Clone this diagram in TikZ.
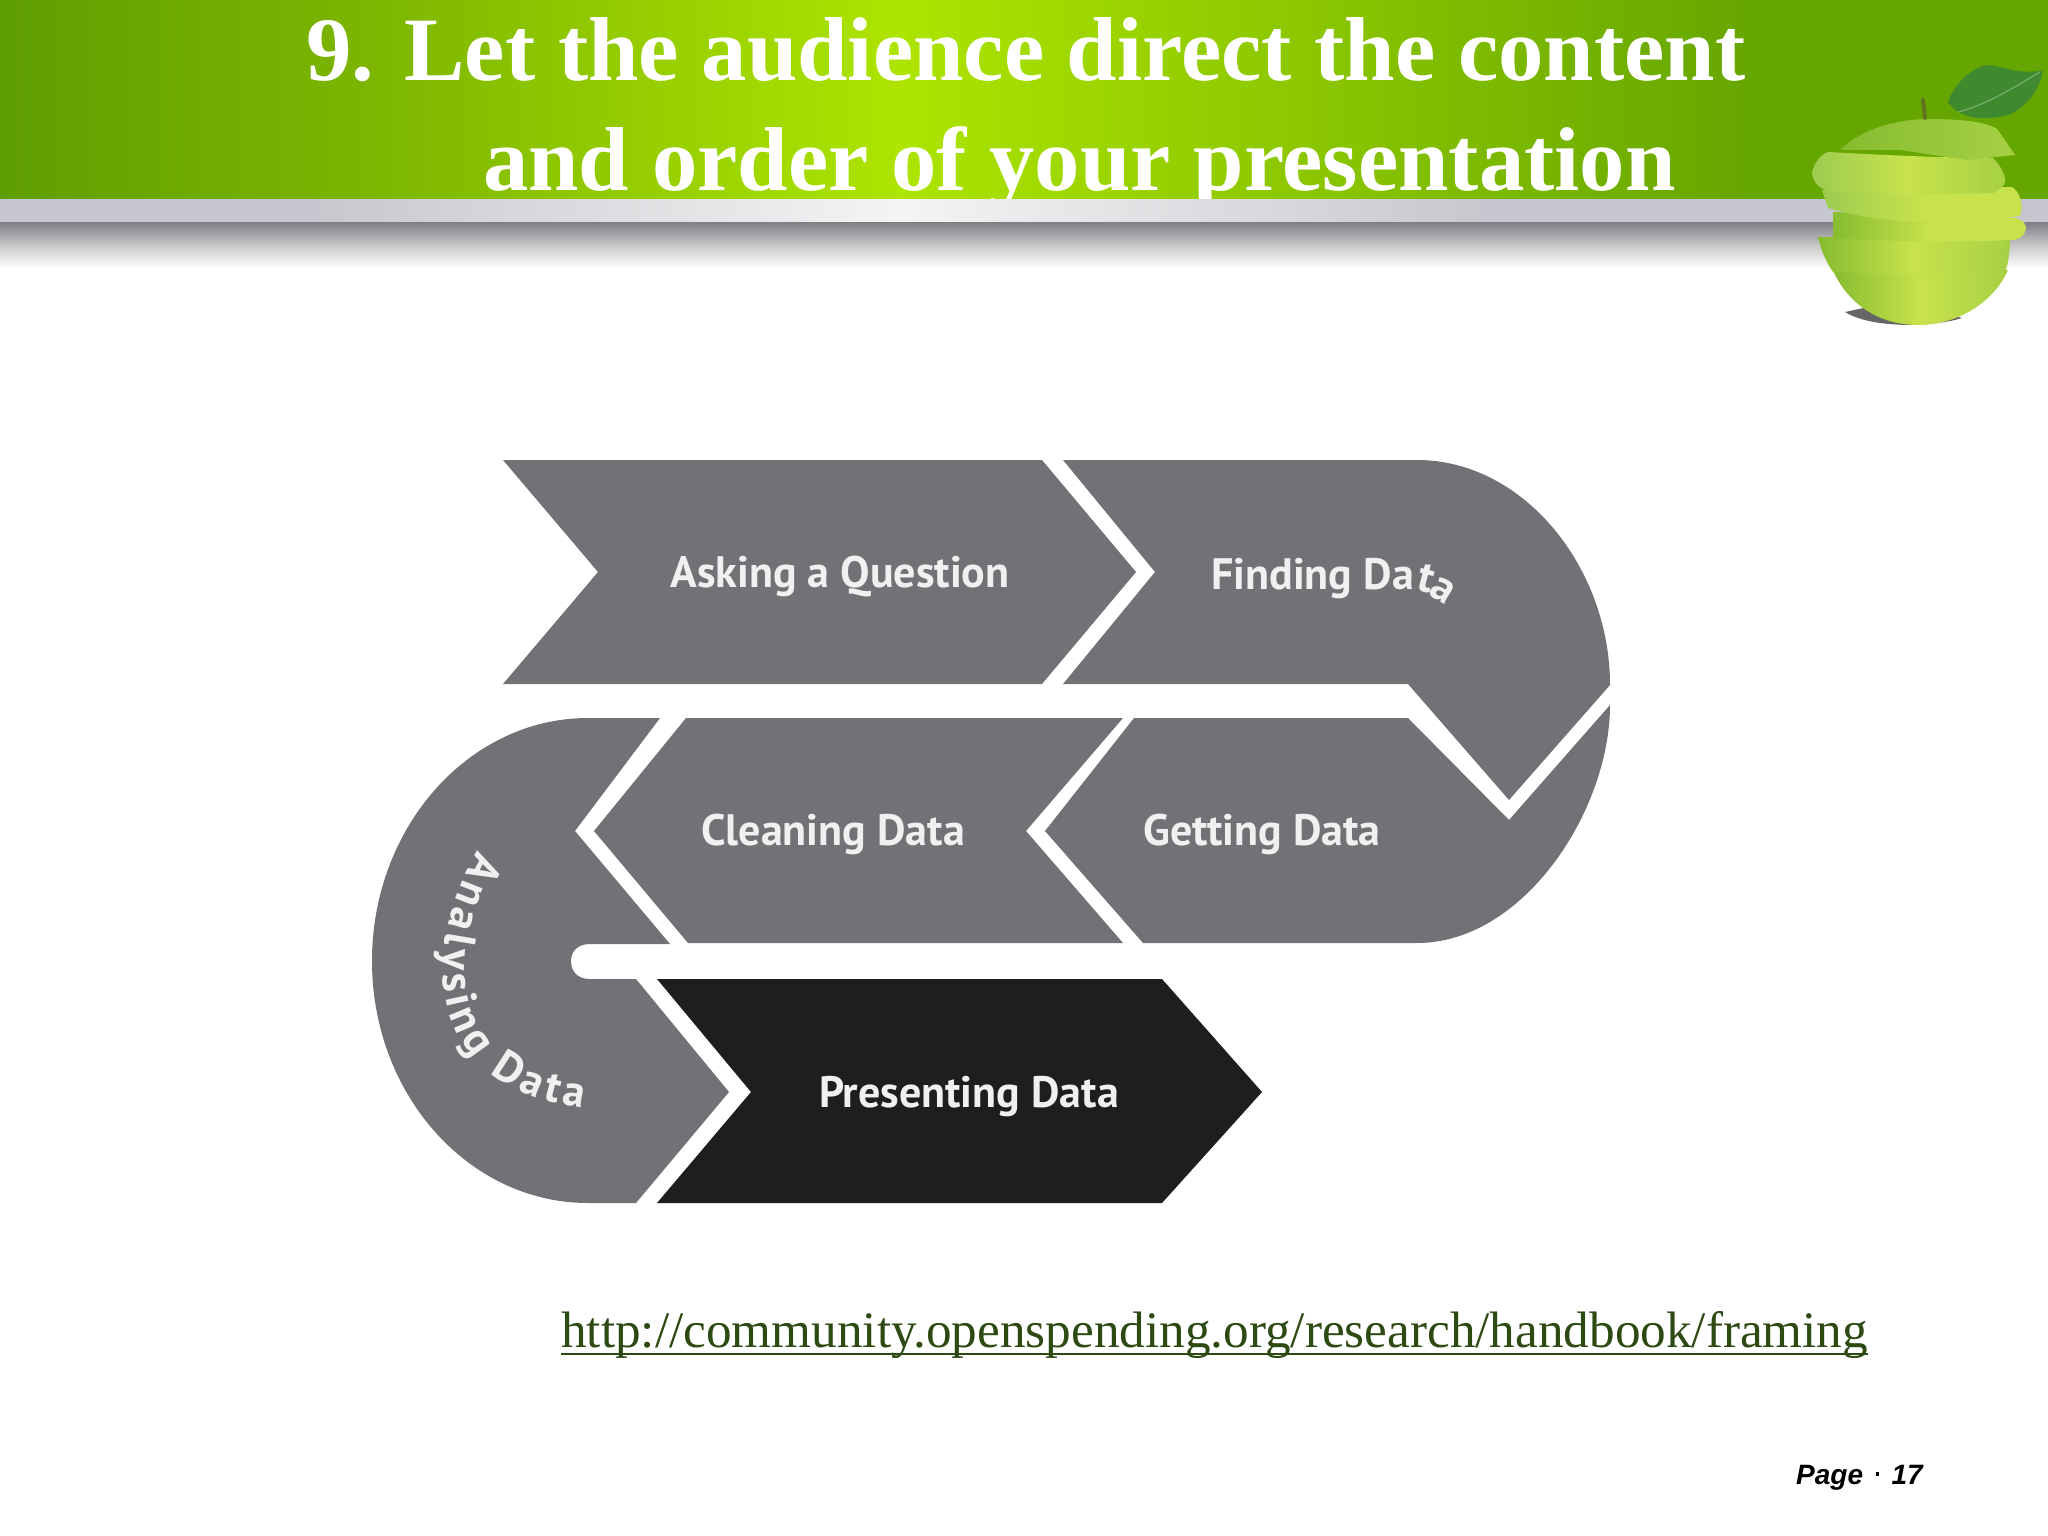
\documentclass[tikz,border=0pt]{standalone}
\usepackage{fontspec}
\setmainfont{Liberation Serif}
\newfontfamily\labelfont{PT Sans}[BoldFont={PT Sans Bold}]
\newfontfamily\pagefont{Liberation Sans}
\usetikzlibrary{arrows.meta,positioning,calc,decorations.text}
\definecolor{stepgray}{HTML}{737175}
\definecolor{stepblack}{HTML}{1F1D20}
\definecolor{urlgreen}{HTML}{2C4A12}
\definecolor{greenedge}{HTML}{5F9E02}
\definecolor{greenmid}{HTML}{7FB800}
\definecolor{greenlight}{HTML}{ADE400}
\definecolor{greenright}{HTML}{66A600}
\definecolor{bandgray}{HTML}{C6C6CE}
\definecolor{bandlight}{HTML}{F4F4F4}
\definecolor{shadowgray}{HTML}{7F7D85}
\definecolor{applelight}{HTML}{C8E24C}
\definecolor{applemid}{HTML}{A6D044}
\definecolor{appledark}{HTML}{86BC30}
\definecolor{appleleft}{HTML}{9CCC50}
\definecolor{leafgreen}{HTML}{3F8A2E}
\tikzset{
  steplabel/.style={text=white!94!black,font=\labelfont\bfseries\fontsize{44}{46}\selectfont,inner sep=0pt},
  titleline/.style={text=white,font=\bfseries\fontsize{90.7}{94}\selectfont,inner sep=0pt,anchor=base west},
}
\begin{document}
\begin{tikzpicture}[x=1pt,y=-1pt]
  \useasboundingbox (0,0) rectangle (2048,1536);
  \fill[white] (0,0) rectangle (2048,1536);
  \foreach \xa/\xb/\ca/\cb in {0/400/greenedge/greenmid,400/900/greenmid/greenlight,900/1750/greenlight/greenright,1750/2048/greenright/greenright}{
    \shade[left color=\ca,right color=\cb] (\xa,0) rectangle (\xb,200);
  }
  \node[titleline] (titleone) at (306,81) {9. Let the audience direct the content};
  \node[titleline] (titletwo) at (483,190) {and order of your presentation};
  \foreach \xa/\xb/\ca/\cb in {0/300/bandgray/bandgray,300/900/bandgray/bandlight,900/1500/bandlight/bandgray,1500/2048/bandgray/bandgray}{
    \shade[left color=\ca,right color=\cb] (\xa,199) rectangle (\xb,222);
  }
  \shade[top color=shadowgray,bottom color=white,middle color=black!22] (0,222) rectangle (2048,268);

  \fill[stepgray] (503,460)--(1042,460)--(1136,572)--(1042,684)--(503,684)--(598,572)--cycle;
  \fill[stepgray] (1063,460)--(1417,460) .. controls (1524,460) and (1610,568) .. (1610,685)
    --(1509,800)--(1408,684)--(1063,684)--(1155,572)--cycle;
  \fill[stepgray] (1134,718)--(1408,718)--(1509,820)--(1610,705)
    .. controls (1610,810) and (1524,943) .. (1417,943)--(1143,943)--(1045,831)--cycle;
  \fill[stepgray] (686,718)--(1123,718)--(1026,831)--(1123,943)--(688,943)--(594,831)--cycle;
  \fill[stepgray] (660,718)--(588,718) .. controls (469,718) and (372,827) .. (372,961)
    .. controls (372,1095) and (469,1203) .. (588,1203)--(636,1203)--(729,1092)--(636,979)--(590,979)
    .. controls (578,979) and (571,972) .. (571,961) .. controls (571,951) and (578,944) .. (590,944)
    --(670,944)--(575,831)--cycle;
  \fill[stepblack] (657,979)--(1162,979)--(1262,1092)--(1162,1203)--(657,1203)--(751,1092)--cycle;

  \node[steplabel] (asking) at (840,577) {Asking a Question};
  \node[steplabel,anchor=base west] (finding) at (1211,589) {Finding Da};
  \node[steplabel,anchor=base west,rotate=-15] (findingt) at ([xshift=1pt]finding.base east) {t};
  \node[steplabel,anchor=base west,rotate=-30] (findinga) at ([xshift=13pt,yshift=-5pt]finding.base east) {a};
  \node[steplabel] (getting) at (1262,834) {Getting Data};
  \node[steplabel] (cleaning) at (833,834) {Cleaning Data};
  \node[steplabel] (presenting) at (969,1097) {Presenting Data};
  \path[decorate,decoration={text along path,text align=fit to path,
    text={|\labelfont\bfseries\fontsize{44}{46}\selectfont\color{white!94!black}|Analysing Data}}]
    (478,851) .. controls (415,960) and (430,1090) .. (583,1108);

  \fill[black!60] (1845,312) .. controls (1870,328) and (1930,328) .. (1962,318)--(1900,300)--cycle;
  \shade[left color=appledark,right color=applemid,middle color=applelight]
    (1832,268)--(2008,270) .. controls (1995,300) and (1960,325) .. (1918,325)
    .. controls (1875,325) and (1845,300) .. (1832,268)--cycle;
  \shade[left color=appledark,right color=applemid,middle color=applelight]
    (1818,237)--(2010,240) .. controls (2010,252) and (2008,264) .. (2005,273)
    .. controls (1950,276) and (1880,274) .. (1833,272)
    .. controls (1826,262) and (1821,250) .. (1818,237)--cycle;
  \shade[left color=appledark,right color=applelight,middle color=applelight]
    (1833,212)--(2015,218) .. controls (2024,220) and (2028,226) .. (2025,232)
    .. controls (2022,238) and (2018,240) .. (2010,240)
    .. controls (1950,243) and (1880,241) .. (1833,238)--cycle;
  \shade[left color=appleleft,right color=applelight,middle color=applelight]
    (1822,190)--(2012,187) .. controls (2020,192) and (2024,205) .. (2020,216)
    .. controls (1950,226) and (1880,224) .. (1828,208)--cycle;
  \shade[left color=appleleft,right color=applemid,middle color=applelight]
    (1812,172) .. controls (1815,162) and (1820,155) .. (1828,152)
    .. controls (1880,155) and (1950,158) .. (1993,158)
    .. controls (2003,168) and (2006,178) .. (2005,183)
    .. controls (2000,190) and (1995,192) .. (1993,193)
    .. controls (1940,195) and (1880,194) .. (1833,192)
    .. controls (1822,190) and (1813,185) .. (1812,172)--cycle;
  \shade[left color=appledark,right color=applemid]
    (1840,150) .. controls (1860,130) and (1895,119) .. (1930,119)
    .. controls (1960,119) and (1990,122) .. (1998,130)--(2015,155)--(1967,160)--(1900,150)--cycle;
  \draw[black!60!green!50!brown,line width=4pt,line cap=round] (1923,100)--(1925,118);
  \fill[leafgreen] (1948,102) .. controls (1955,82) and (1975,65) .. (1990,65)
    .. controls (2005,68) and (2025,75) .. (2043,70)
    .. controls (2040,90) and (2025,110) .. (2005,116)
    .. controls (1985,120) and (1960,120) .. (1948,102)--cycle;
  \draw[leafgreen!70!white,line width=1.2pt] (1958,112) .. controls (1985,105) and (2010,90) .. (2040,72);

  \node[anchor=base west,inner sep=0pt,text=urlgreen,font=\fontsize{51.2}{54}\selectfont] (urltext) at (561,1347)
    {http://community.openspending.org/research/handbook/framing};
  \draw[urlgreen,line width=2.4pt] ([yshift=-7pt]urltext.base west)--([yshift=-7pt]urltext.base east);
  \node[anchor=base west,inner sep=0pt,font=\pagefont\bfseries\itshape\fontsize{28}{30}\selectfont] (pageno) at (1796,1484)
    {Page \,\raisebox{.3em}{\rule{3.5pt}{3.5pt}}\, 17};
\end{tikzpicture}
\end{document}
